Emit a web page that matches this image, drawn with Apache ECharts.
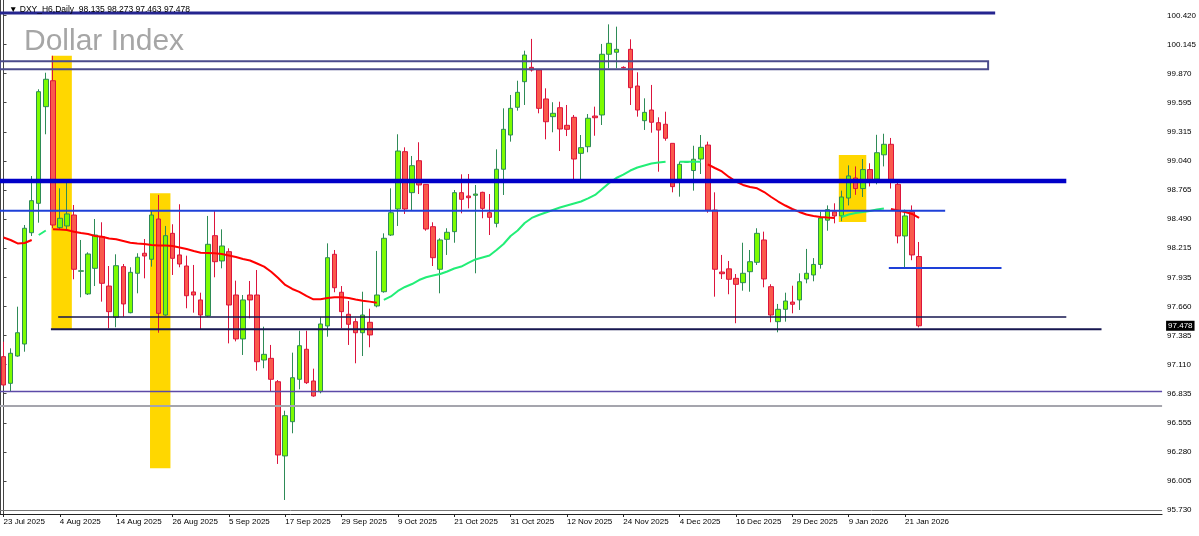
<!DOCTYPE html>
<html><head><meta charset="utf-8">
<script src="https://cdn.jsdelivr.net/npm/echarts@6/dist/echarts.min.js"></script>
<style>html,body{margin:0;padding:0;background:#fff}#c{width:1199px;height:536px}</style>
</head><body><div id="c"></div>
<script>
const opens = [97.185,96.932,97.191,97.305,98.361,98.640,99.557,99.803,98.409,98.425,
 98.529,97.995,97.780,98.023,98.323,97.855,97.558,98.039,97.602,97.976,
 98.166,98.109,98.491,97.580,98.355,98.150,98.045,97.799,97.723,97.571,
 98.333,98.093,98.181,97.770,97.353,97.770,97.770,97.153,97.169,96.947,
 96.243,96.568,96.970,97.255,96.954,96.853,97.476,98.156,97.796,97.587,
 97.517,97.412,97.511,97.666,97.801,98.339,98.586,99.130,98.741,99.044,
 98.820,98.418,98.014,98.298,98.371,98.741,98.709,98.716,98.744,98.551,
 98.450,98.963,99.288,99.551,99.794,99.930,99.905,99.630,99.462,99.547,
 99.380,99.456,99.114,99.177,99.468,99.478,100.054,100.073,99.930,100.101,
 99.753,99.424,99.525,99.405,99.390,99.209,98.868,99.030,98.951,99.060,
 99.193,98.576,97.988,98.018,97.928,97.887,97.991,98.080,98.292,97.849,
 97.517,97.634,97.703,97.723,97.922,97.960,98.060,98.480,98.560,98.520,
 98.690,98.880,98.780,98.960,98.870,99.100,99.200,98.820,98.330,98.560,
 98.135];
const highs = [97.327,97.264,97.659,98.434,98.899,99.722,99.879,100.040,98.782,98.868,
 98.624,98.292,98.175,98.491,98.460,98.045,98.156,98.064,98.033,98.166,
 98.301,98.570,98.719,98.425,98.441,98.631,98.143,98.055,97.792,98.520,
 98.570,98.393,98.213,97.906,97.770,97.903,98.007,97.469,97.296,96.963,
 96.672,97.223,97.431,97.431,97.071,97.559,98.260,98.197,97.855,97.713,
 97.549,97.801,97.640,98.188,98.355,98.782,99.295,99.171,99.089,99.219,
 98.820,98.460,98.308,98.403,98.766,98.915,98.918,98.814,98.750,98.728,
 99.152,99.541,99.668,99.803,100.088,100.200,99.905,99.731,99.599,99.604,
 99.573,99.478,99.288,99.487,99.557,100.152,100.338,100.316,99.940,100.196,
 99.883,99.636,99.763,99.456,99.509,99.209,99.035,99.040,99.186,99.288,
 99.225,98.744,98.150,98.093,97.969,98.266,98.197,98.403,98.371,97.872,
 97.685,97.792,97.858,97.976,98.207,98.120,98.560,98.620,98.640,98.760,
 99.000,98.990,99.060,99.020,99.290,99.300,99.260,98.860,98.580,98.620,
 98.273];
const lows = [96.910,96.853,97.185,97.232,98.330,98.456,99.295,98.403,98.396,98.380,
 97.919,97.748,97.770,97.855,97.707,97.454,97.464,97.564,97.596,97.786,
 97.928,98.039,97.412,97.574,97.960,98.033,97.644,97.602,97.447,97.564,
 97.938,98.023,97.311,97.330,97.201,97.549,97.052,97.075,96.853,96.167,
 95.825,96.458,96.875,96.926,96.805,96.837,97.374,97.796,97.454,97.296,
 97.122,97.191,97.274,97.653,97.792,98.330,98.425,98.539,98.576,98.728,
 98.380,98.045,97.786,98.150,98.266,98.545,98.592,97.976,98.498,98.339,
 98.412,98.719,99.225,99.519,99.573,99.890,99.494,99.247,99.314,99.136,
 99.278,98.852,98.868,99.124,99.281,99.383,99.921,99.921,99.920,99.573,
 99.462,99.336,99.310,98.940,99.234,98.744,98.703,99.028,98.760,98.918,
 98.551,97.754,97.922,97.777,97.502,97.811,97.801,98.055,97.843,97.511,
 97.416,97.517,97.596,97.628,97.881,97.900,98.020,98.380,98.450,98.470,
 98.620,98.720,98.700,98.800,98.820,98.990,98.780,98.260,98.030,98.100,
 97.463];
const closes = [96.916,97.217,97.412,98.403,98.665,99.699,99.817,98.434,98.498,98.539,
 98.014,98.000,98.159,98.339,97.881,97.612,98.048,97.685,97.985,98.128,
 98.140,98.529,97.596,98.333,98.118,98.064,97.763,97.770,97.580,98.251,
 98.086,98.235,97.675,97.353,97.723,97.723,97.137,97.207,96.970,96.252,
 96.625,96.985,97.289,96.938,96.812,97.495,98.124,97.839,97.612,97.492,
 97.412,97.580,97.391,97.770,98.308,98.551,99.136,98.586,98.997,98.814,
 98.396,98.124,98.292,98.365,98.741,98.678,98.693,98.728,98.592,98.507,
 98.963,99.342,99.541,99.693,100.047,99.905,99.541,99.414,99.494,99.345,
 99.342,99.060,99.168,99.447,99.452,100.054,100.158,100.101,99.925,99.737,
 99.525,99.503,99.409,99.335,99.257,98.798,99.010,99.035,99.058,99.171,
 98.576,98.014,97.972,97.919,97.871,97.976,98.086,98.355,97.922,97.580,
 97.634,97.713,97.682,97.896,97.976,98.060,98.500,98.580,98.520,98.700,
 98.900,98.780,98.960,98.860,99.120,99.200,98.840,98.330,98.520,98.150,
 97.478];
const maValues = [98.316,98.292,98.259,98.263,98.292,98.339,98.382,98.393,98.391,98.387,
 98.371,98.358,98.349,98.330,98.323,98.306,98.298,98.282,98.266,98.259,
 98.254,98.244,98.240,98.240,98.235,98.221,98.206,98.188,98.171,98.169,
 98.166,98.159,98.145,98.131,98.112,98.097,98.069,98.039,97.991,97.931,
 97.865,97.827,97.799,97.761,97.729,97.729,97.742,97.748,97.748,97.742,
 97.727,97.716,97.707,97.697,97.723,97.756,97.808,97.846,97.874,97.912,
 97.938,97.955,97.969,97.993,98.021,98.040,98.074,98.107,98.126,98.145,
 98.197,98.254,98.330,98.382,98.453,98.501,98.529,98.553,98.577,98.600,
 98.619,98.638,98.657,98.686,98.719,98.776,98.833,98.880,98.913,98.951,
 98.980,98.999,99.018,99.027,99.035,99.035,99.035,99.035,99.035,99.035,
 99.010,98.975,98.942,98.890,98.847,98.814,98.795,98.782,98.747,98.700,
 98.657,98.619,98.586,98.558,98.534,98.520,98.510,98.505,98.501,98.510,
 98.534,98.548,98.557,98.567,98.581,98.591,98.586,98.572,98.557,98.539,
 98.501];
// [firstBar, lastBar, trend]
const maTrendSegments = [[0,4,'down'],[5,6,'up'],[7,53,'down'],[54,94,'up'],[96,99,'up'],[100,118,'down'],[119,125,'up'],[126,130,'down']];
const tickLabels = ['23 Jul 2025','4 Aug 2025','14 Aug 2025','26 Aug 2025','5 Sep 2025','17 Sep 2025','29 Sep 2025','9 Oct 2025','21 Oct 2025','31 Oct 2025','12 Nov 2025','24 Nov 2025','4 Dec 2025','16 Dec 2025','29 Dec 2025','9 Jan 2026','21 Jan 2026'];
const barsPerTick = 8;
const priceTicks = [100.420,100.145,99.870,99.595,99.315,99.040,98.765,98.490,98.215,97.935,97.660,97.385,97.110,96.835,96.555,96.280,96.005,95.730];
const totalSlots = 165;
const priceMin = 95.692, priceMax = 100.569;
const lastPrice = 97.478;
const headerText = '\u25BC DXY_H6,Daily  98.135 98.273 97.463 97.478';
const chartTitle = 'Dollar Index';
// horizontal objects: [fromBar, toBar, price]
const levelLines = [
  [-0.5, 140.8, 100.445],
  [-0.5, 150.9, 98.852],
  [-0.5, 133.7, 98.569],
  [125.7, 141.7, 98.026],
  [7.76, 150.9, 97.561],
  [6.73, 155.9, 97.445],
  [-0.5, 164.5, 96.854],
  [-0.5, 164.5, 96.717],
  [-0.5, 164.5, 95.725]
];
const levelStyles = [
  {color:'#25258f', width:3},
  {color:'#0000c8', width:4.5},
  {color:'#1e40d8', width:2},
  {color:'#1e40d8', width:2},
  {color:'#16164f', width:1.5},
  {color:'#16164f', width:2},
  {color:'#5c4aa8', width:1.5},
  {color:'#a5a5ad', width:2},
  {color:'#777777', width:1}
];
// yellow zones: [fromBar, toBar, topPrice, bottomPrice]
const zones = [
  [6.8, 9.7, 100.041, 97.438],
  [20.8, 23.7, 98.735, 96.126],
  [118.6, 122.5, 99.098, 98.463]
];
const boxes = [[-0.5, 139.8, 99.987, 99.912]];

const FONT = "'Liberation Sans', Arial, sans-serif";
const candleData = opens.map((o, i) => [o, closes[i], lows[i], highs[i]]);
const categories = Array.from({length: totalSlots}, (_, i) => String(i));
const maUp = maValues.map(() => null), maDown = maValues.map(() => null);
maTrendSegments.forEach(([a, b, t]) => { for (let i = a; i <= b; i++) (t === 'up' ? maUp : maDown)[i] = maValues[i]; });
const showTick = (idx) => idx % barsPerTick === 0 && idx / barsPerTick < tickLabels.length;

const rectRender = (fill, stroke, lw) => (params, api) => {
  const p1 = api.coord([api.value(0), api.value(2)]);
  const p2 = api.coord([api.value(1), api.value(3)]);
  return {type:'rect', shape:{x:p1[0], y:p1[1], width:p2[0]-p1[0], height:p2[1]-p1[1]},
    style:{fill: fill, stroke: stroke, lineWidth: lw}};
};

const series = [
  {type:'custom', name:'zones', xAxisIndex:1, yAxisIndex:0, z:1, silent:true,
   renderItem: rectRender('#FFD700', null, 0), encode:{x:[0,1], y:[2,3]}, data: zones},
  {type:'candlestick', name:'DXY', xAxisIndex:0, yAxisIndex:0, z:3, barWidth:5,
   data: candleData,
   itemStyle:{color:'#7CFC00', color0:'#FA5A4C', borderColor:'#2E8B57', borderColor0:'#DC143C', borderWidth:1}},
  {type:'line', name:'maDown', xAxisIndex:0, yAxisIndex:0, z:4, data: maDown, showSymbol:false, connectNulls:false,
   lineStyle:{color:'#FF0000', width:2}, silent:true},
  {type:'line', name:'maUp', xAxisIndex:0, yAxisIndex:0, z:4, data: maUp, showSymbol:false, connectNulls:false,
   lineStyle:{color:'#22EE77', width:2}, silent:true},
  {type:'custom', name:'box', xAxisIndex:1, yAxisIndex:0, z:5, silent:true,
   renderItem: rectRender('rgba(0,0,0,0)', '#4b4b8c', 2), encode:{x:[0,1], y:[2,3]}, data: boxes}
];
levelLines.forEach((l, i) => {
  series.push({type:'line', xAxisIndex:1, yAxisIndex:0, z:5, silent:true, showSymbol:false,
    data:[[l[0], l[2]], [l[1], l[2]]],
    lineStyle:{color: levelStyles[i].color, width: levelStyles[i].width}});
});

const chart = echarts.init(document.getElementById('c'), null, {renderer:'canvas'});
chart.setOption({
  animation:false,
  backgroundColor:'#ffffff',
  textStyle:{fontFamily:FONT},
  title:[
    {text: headerText, left:4, top:0, textStyle:{fontFamily:FONT, fontSize:8.5, fontWeight:'normal', color:'#000', lineHeight:10}},
    {text: chartTitle, left:19, top:22, textStyle:{fontFamily:FONT, fontSize:30, fontWeight:'normal', color:'#a6a6a6', lineHeight:30}}
  ],
  grid:{left:0, right:35, top:0, bottom:22, containLabel:false},
  xAxis:[
    {type:'category', data: categories, boundaryGap:true,
     axisLine:{show:true, lineStyle:{color:'#222', width:1}},
     axisTick:{show:true, alignWithLabel:true, interval:(i)=>showTick(i), length:3, lineStyle:{color:'#222'}},
     axisLabel:{show:true, interval:(i)=>showTick(i), formatter:(v, i)=>tickLabels[Math.round(i / barsPerTick)] || '',
       align:'left', fontFamily:FONT, fontSize:8, color:'#000', margin:4},
     splitLine:{show:false}},
    {type:'value', min:-0.5, max: totalSlots - 0.5, show:false}
  ],
  yAxis:[
    {type:'value', position:'right', min: priceMin, max: priceMax, scale:true,
     axisLine:{show:true, lineStyle:{color:'#444', width:1}},
     axisTick:{show:true, customValues: priceTicks, length:3, lineStyle:{color:'#444'}},
     axisLabel:{show:true, customValues: priceTicks, formatter:(v)=>Number(v).toFixed(3),
       fontFamily:FONT, fontSize:8, color:'#000', margin:5},
     splitLine:{show:false}},
    {type:'value', position:'left', min: priceMin, max: priceMax,
     axisLine:{show:true, lineStyle:{color:'#444', width:1}},
     axisTick:{show:false}, axisLabel:{show:false}, splitLine:{show:false}},
    {type:'value', position:'right', offset:0, min: priceMin, max: priceMax, z:10,
     axisLine:{show:false}, axisTick:{show:false}, splitLine:{show:false},
     axisLabel:{show:true, customValues:[lastPrice], formatter:(v)=>Number(v).toFixed(3),
       fontFamily:FONT, fontSize:8, color:'#fff', backgroundColor:'#000', padding:[1,2,1,2], margin:4}}
  ],
  series: series
});
</script>
</body></html>
